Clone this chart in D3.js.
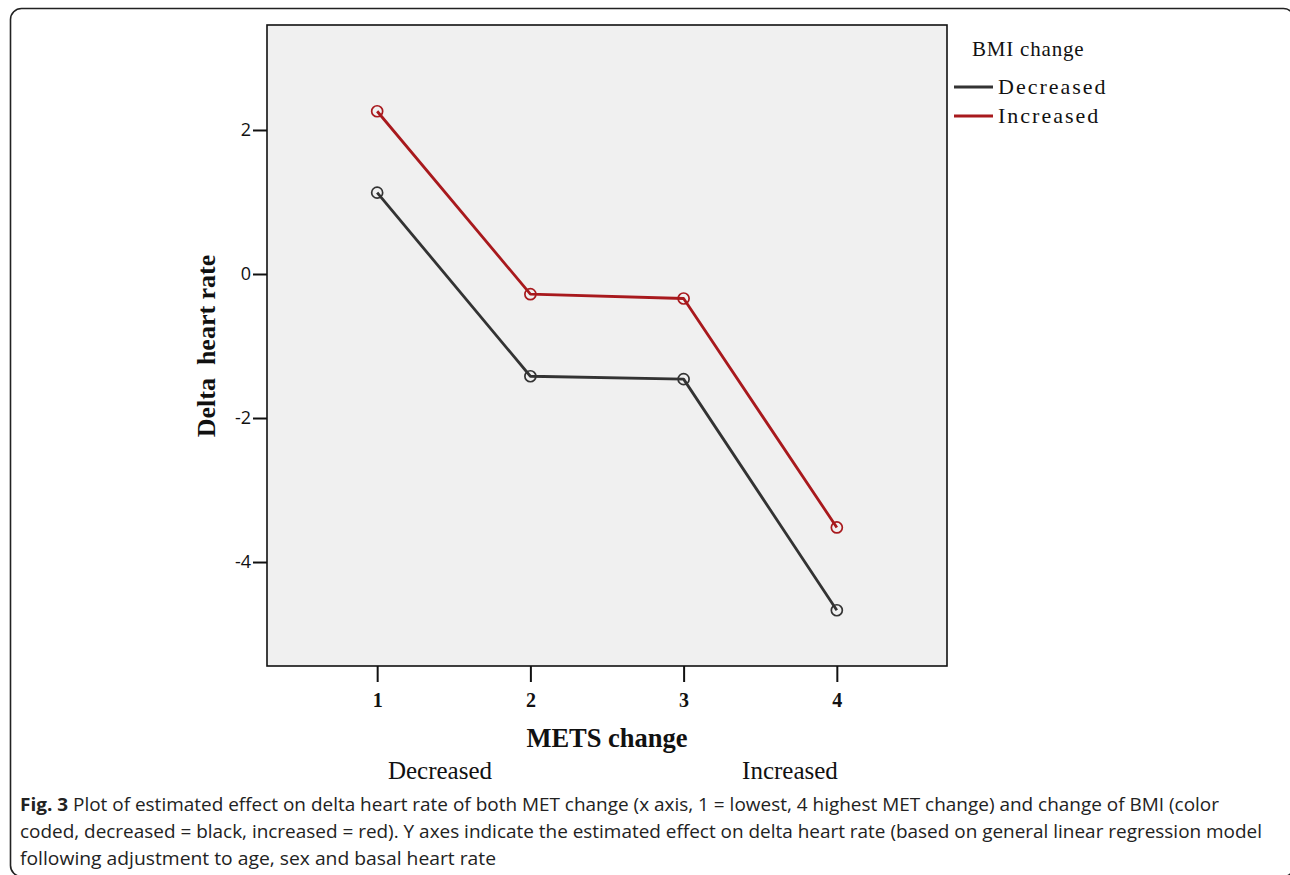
<!DOCTYPE html>
<html><head><meta charset="utf-8">
<script src="https://cdn.jsdelivr.net/npm/d3@7"></script>
<style>body{margin:0;background:#fff}svg{display:block}</style>
</head><body>
<script>
const metsLevels = [1, 2, 3, 4];
const seriesNames = ["Decreased", "Increased"];
const decreasedValues = [1.13, -1.42, -1.46, -4.67];
const increasedValues = [2.26, -0.28, -0.34, -3.52];
const seriesColors = ["#333333", "#a8191d"];
const yTicks = [2, 0, -2, -4];
const xTickLabels = ["1", "2", "3", "4"];
const captionLines = [
  "Plot of estimated effect on delta heart rate of both MET change (x axis, 1 = lowest, 4 highest MET change) and change of BMI (color",
  "coded, decreased = black, increased = red). Y axes indicate the estimated effect on delta heart rate (based on general linear regression model",
  "following adjustment to age, sex and basal heart rate"
];

const W = 1290, H = 875;
const svg = d3.select("body").append("svg").attr("width", W).attr("height", H);

// outer frame
svg.append("rect").attr("x", 10.5).attr("y", 8.5).attr("width", 1284).attr("height", 868)
  .attr("rx", 11).attr("fill", "none").attr("stroke", "#222").attr("stroke-width", 1.6);

const plot = {left: 267, top: 25, right: 947, bottom: 666};
const x = d3.scaleLinear().domain([0.281, 4.719]).range([plot.left, plot.right]);
const y = d3.scaleLinear().domain([-5.444, 3.458]).range([plot.bottom, plot.top]);

svg.append("rect").attr("x", plot.left).attr("y", plot.top)
  .attr("width", plot.right - plot.left).attr("height", plot.bottom - plot.top)
  .attr("fill", "#f0f0f0").attr("stroke", "#111").attr("stroke-width", 1.6);

// y axis
const yAxis = d3.axisLeft(y).tickValues(yTicks).tickSize(14).tickPadding(2).tickFormat(d3.format("d"));
const gy = svg.append("g").attr("transform", `translate(${plot.left},0)`).call(yAxis);
gy.select(".domain").remove();
gy.selectAll(".tick line").attr("stroke", "#111").attr("stroke-width", 2);
gy.selectAll(".tick text").attr("font-family", "'Open Sans', sans-serif").attr("font-size", 18)
  .attr("fill", "#111").text(d => d < 0 ? "-" + Math.abs(d) : d);

// x axis
const xAxis = d3.axisBottom(x).tickValues(metsLevels).tickSize(16).tickPadding(11)
  .tickFormat((d, i) => xTickLabels[i]);
const gx = svg.append("g").attr("transform", `translate(0,${plot.bottom})`).call(xAxis);
gx.select(".domain").remove();
gx.selectAll(".tick line").attr("stroke", "#111").attr("stroke-width", 2);
gx.selectAll(".tick text").attr("font-family", "'Liberation Serif', serif").attr("font-weight", "bold")
  .attr("font-size", 20).attr("fill", "#111");

// lines
const allSeries = [decreasedValues, increasedValues];
const line = d3.line().x((d, i) => x(metsLevels[i])).y(d => y(d));
allSeries.forEach((vals, s) => {
  svg.append("path").datum(vals).attr("d", line).attr("fill", "none")
    .attr("stroke", seriesColors[s]).attr("stroke-width", 2.8).attr("stroke-linejoin", "round");
  svg.selectAll(null).data(vals).enter().append("circle")
    .attr("cx", (d, i) => x(metsLevels[i])).attr("cy", d => y(d)).attr("r", 5.5)
    .attr("fill", "none").attr("stroke", seriesColors[s]).attr("stroke-width", 1.7);
});

// axis titles
svg.append("text").attr("transform", `translate(215,346) rotate(-90)`).attr("text-anchor", "middle")
  .attr("font-family", "'Liberation Serif', serif").attr("font-weight", "bold").attr("font-size", 26)
  .attr("fill", "#111").style("white-space", "pre").text("Delta  heart rate");
svg.append("text").attr("x", 607).attr("y", 747).attr("text-anchor", "middle")
  .attr("font-family", "'Liberation Serif', serif").attr("font-weight", "bold").attr("font-size", 26.5)
  .attr("fill", "#111").text("METS change");
svg.append("text").attr("x", 440).attr("y", 779).attr("text-anchor", "middle")
  .attr("font-family", "'Liberation Serif', serif").attr("font-size", 25).attr("fill", "#111").text("Decreased");
svg.append("text").attr("x", 790).attr("y", 779).attr("text-anchor", "middle")
  .attr("font-family", "'Liberation Serif', serif").attr("font-size", 25).attr("fill", "#111").text("Increased");

// legend
svg.append("text").attr("x", 972).attr("y", 56).attr("font-family", "'Liberation Serif', serif")
  .attr("font-size", 21).attr("letter-spacing", 0.8).attr("fill", "#111").text("BMI change");
seriesNames.forEach((name, i) => {
  const ly = 87 + i * 29;
  svg.append("line").attr("x1", 954).attr("x2", 993).attr("y1", ly).attr("y2", ly)
    .attr("stroke", seriesColors[i]).attr("stroke-width", 2.8);
  svg.append("text").attr("x", 998).attr("y", ly + 7).attr("font-family", "'Liberation Serif', serif")
    .attr("font-size", 22).attr("letter-spacing", 2).attr("fill", "#111").text(name);
});

// caption
const capWidths = [1199, 1242, 476];
captionLines.forEach((t, i) => {
  const tx = svg.append("text").attr("x", 20).attr("y", 811 + i * 27)
    .attr("font-family", "'Open Sans', sans-serif").attr("font-size", 18).attr("fill", "#222")
    .attr("textLength", capWidths[i]).attr("lengthAdjust", "spacingAndGlyphs");
  if (i === 0) {
    tx.append("tspan").attr("font-weight", "bold").text("Fig. 3");
    tx.append("tspan").text(" " + t);
  } else tx.text(t);
});
</script>
</body></html>
